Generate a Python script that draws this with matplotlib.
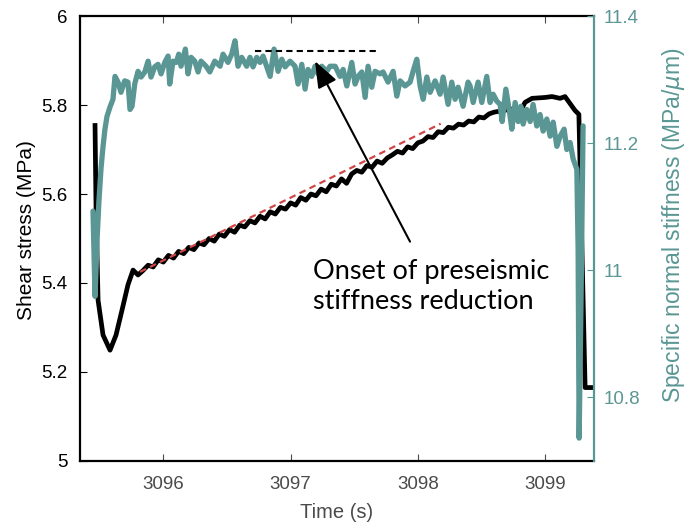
import matplotlib.pyplot as plt

# shear stress record (s, MPa)
shear_time = [
    3095.463, 3095.471, 3095.487, 3095.526, 3095.581, 3095.628, 3095.675,
    3095.722, 3095.762, 3095.801,
    3095.84, 3095.88, 3095.92, 3095.96, 3096.00, 3096.04, 3096.08, 3096.12,
    3096.16, 3096.20, 3096.24, 3096.28, 3096.32, 3096.36, 3096.40, 3096.44,
    3096.48, 3096.52, 3096.56, 3096.60, 3096.64, 3096.68, 3096.72, 3096.76,
    3096.80, 3096.84, 3096.88, 3096.92, 3096.96, 3097.00, 3097.04, 3097.08,
    3097.12, 3097.16, 3097.20, 3097.24, 3097.28, 3097.32, 3097.36, 3097.40,
    3097.44, 3097.48, 3097.52, 3097.56, 3097.60, 3097.64, 3097.68, 3097.72,
    3097.76, 3097.80, 3097.84, 3097.88, 3097.92, 3097.96, 3098.00, 3098.04,
    3098.08, 3098.12, 3098.16, 3098.20, 3098.24, 3098.28, 3098.32, 3098.36,
    3098.40, 3098.44, 3098.48, 3098.52, 3098.56, 3098.60,
    3098.686, 3098.72, 3098.80, 3098.843, 3098.898, 3099.00, 3099.055,
    3099.118, 3099.157, 3099.235, 3099.266, 3099.315, 3099.378,
]
shear_stress = [
    5.754, 5.564, 5.361, 5.283, 5.249, 5.283, 5.339,
    5.396, 5.429, 5.418,
    5.428, 5.440, 5.436, 5.452, 5.447, 5.462, 5.456, 5.471,
    5.466, 5.480, 5.475, 5.490, 5.486, 5.500, 5.494, 5.510,
    5.505, 5.520, 5.514, 5.530, 5.526, 5.540, 5.535, 5.550,
    5.544, 5.560, 5.555, 5.570, 5.566, 5.580, 5.575, 5.592,
    5.586, 5.600, 5.596, 5.611, 5.605, 5.622, 5.618, 5.634,
    5.624, 5.645, 5.653, 5.649, 5.664, 5.660, 5.674, 5.669,
    5.681, 5.688, 5.696, 5.692, 5.706, 5.702, 5.715, 5.719,
    5.729, 5.727, 5.740, 5.738, 5.750, 5.748, 5.757, 5.755,
    5.764, 5.762, 5.773, 5.771, 5.780, 5.784,
    5.788, 5.792, 5.783, 5.806, 5.815, 5.817, 5.819,
    5.815, 5.819, 5.788, 5.779, 5.165, 5.165,
]

# specific normal stiffness record (s, MPa/um)
stiff_time = [
    3095.447, 3095.463, 3095.479, 3095.494, 3095.510, 3095.526, 3095.541,
    3095.557, 3095.581, 3095.604, 3095.620, 3095.644, 3095.667, 3095.696,
    3095.722, 3095.738, 3095.754, 3095.775, 3095.801, 3095.825, 3095.854,
    3095.880, 3095.903, 3095.932, 3095.958, 3095.982, 3096.011, 3096.037,
    3096.050, 3096.076, 3096.102, 3096.121, 3096.139, 3096.173, 3096.194,
    3096.218, 3096.247, 3096.273, 3096.296, 3096.336, 3096.365, 3096.404,
    3096.446, 3096.469, 3096.508, 3096.537, 3096.563, 3096.587, 3096.616,
    3096.655, 3096.681, 3096.705, 3096.734, 3096.760, 3096.784, 3096.813,
    3096.839, 3096.870, 3096.902, 3096.931, 3096.957, 3096.996, 3097.035,
    3097.059, 3097.088, 3097.114, 3097.137, 3097.166, 3097.192, 3097.216,
    3097.245, 3097.284, 3097.310, 3097.350, 3097.389, 3097.413, 3097.442,
    3097.481, 3097.507, 3097.531, 3097.560, 3097.586, 3097.609, 3097.638,
    3097.664, 3097.703, 3097.727, 3097.766, 3097.806, 3097.835, 3097.861,
    3097.900, 3097.939, 3097.963, 3097.992, 3098.018, 3098.042, 3098.071,
    3098.097, 3098.136, 3098.175, 3098.199, 3098.238, 3098.267, 3098.293,
    3098.317, 3098.356, 3098.395, 3098.411, 3098.435, 3098.474, 3098.503,
    3098.542, 3098.568, 3098.592, 3098.621, 3098.647, 3098.663, 3098.692,
    3098.718, 3098.739, 3098.765, 3098.789, 3098.810, 3098.828, 3098.857,
    3098.883, 3098.906, 3098.935, 3098.961, 3098.985, 3099.014, 3099.040,
    3099.064, 3099.093, 3099.119, 3099.150, 3099.171, 3099.197, 3099.221,
    3099.250, 3099.260, 3099.268, 3099.283, 3099.299,
]
stiffness = [
    11.093, 10.959, 11.048, 11.110, 11.160, 11.195, 11.222,
    11.242, 11.257, 11.269, 11.305, 11.296, 11.280, 11.298,
    11.296, 11.253, 11.258, 11.293, 11.313, 11.304, 11.312,
    11.329, 11.304, 11.320, 11.324, 11.309, 11.327, 11.337,
    11.293, 11.329, 11.327, 11.340, 11.321, 11.348, 11.309,
    11.335, 11.329, 11.312, 11.329, 11.321, 11.312, 11.329,
    11.321, 11.340, 11.327, 11.340, 11.361, 11.321, 11.335,
    11.321, 11.335, 11.320, 11.335, 11.327, 11.337, 11.320,
    11.305, 11.348, 11.313, 11.332, 11.320, 11.329, 11.321,
    11.293, 11.324, 11.285, 11.316, 11.305, 11.321, 11.309,
    11.321, 11.313, 11.321, 11.321, 11.305, 11.316, 11.290,
    11.327, 11.293, 11.305, 11.312, 11.272, 11.321, 11.288,
    11.313, 11.309, 11.312, 11.296, 11.313, 11.274, 11.298,
    11.290, 11.296, 11.313, 11.332, 11.290, 11.269, 11.304,
    11.280, 11.298, 11.277, 11.304, 11.261, 11.296, 11.269,
    11.288, 11.258, 11.296, 11.290, 11.264, 11.296, 11.264,
    11.305, 11.264, 11.277, 11.266, 11.261, 11.234, 11.285,
    11.253, 11.222, 11.264, 11.234, 11.258, 11.230, 11.253,
    11.234, 11.261, 11.227, 11.245, 11.219, 11.238, 11.211,
    11.233, 11.195, 11.211, 11.222, 11.190, 11.201, 11.175,
    11.159, 11.033, 10.736, 10.954, 11.227,
]

# linear fit to the loading stage
fit_time = [3095.817, 3098.18]
fit_stress = [5.425, 5.758]

# peak stiffness level
peak_time = [3096.72, 3097.69]
peak_stiffness = [11.345, 11.345]

teal = "#5a9794"
grey = "#4a4a4a"

fig, ax = plt.subplots(figsize=(6.88, 5.22), dpi=100)
fig.subplots_adjust(left=0.1163, right=0.8634, bottom=0.1169, top=0.9693)

ax.plot(shear_time, shear_stress, color="black", lw=3.4, solid_joinstyle="round")
ax.plot(fit_time, fit_stress, color="#d04545", lw=1.6, ls=(0, (3, 2)))
ax.set_xlim(3095.345, 3099.385)
ax.set_ylim(5, 6)
ax.set_xticks([3096, 3097, 3098, 3099])
ax.set_yticks([5, 5.2, 5.4, 5.6, 5.8, 6])
ax.set_yticklabels(["5", "5.2", "5.4", "5.6", "5.8", "6"])
ax.tick_params(axis="x", direction="in", length=5, colors=grey, labelsize=13.5,
               top=True, pad=11)
ax.tick_params(axis="y", direction="in", length=5, colors="black", labelsize=13.5,
               pad=9)
ax.set_xlabel("Time (s)", fontsize=14.5, color=grey, labelpad=7)
ax.set_ylabel("Shear stress (MPa)", fontsize=15, color="black")
ax.yaxis.set_label_coords(-0.085, 0.52)
for side in ["top", "bottom", "left"]:
    ax.spines[side].set_linewidth(1.6)
    ax.spines[side].set_color("black")
ax.spines["right"].set_visible(False)

ax2 = ax.twinx()
ax2.plot(stiff_time, stiffness, color=teal, lw=3.8, solid_joinstyle="round",
         solid_capstyle="round")
ax2.plot(peak_time, peak_stiffness, color="black", lw=1.5, ls=(0, (3, 2)))
ax2.set_ylim(10.7, 11.4)
ax2.set_yticks([10.8, 11, 11.2, 11.4])
ax2.set_yticklabels(["10.8", "11", "11.2", "11.4"])
ax2.tick_params(axis="y", direction="in", length=5, colors=teal, labelsize=13.5,
                pad=7)
ax2.set_ylabel(r"Specific normal stiffness (MPa/$\mu$m)", fontsize=16.5,
               color=teal)
ax2.yaxis.set_label_coords(1.128, 0.53)
for side in ["top", "bottom", "left"]:
    ax2.spines[side].set_visible(False)
ax2.spines["right"].set_color(teal)
ax2.spines["right"].set_linewidth(1.6)

ax2.annotate("", xy=(3097.192, 11.329), xytext=(3097.939, 11.045),
             arrowprops=dict(arrowstyle="-|>,head_length=0.65,head_width=0.25",
                             color="black", lw=1.5, mutation_scale=25,
                             shrinkA=0, shrinkB=0))
ax2.text(3097.177, 10.975, "Onset of preseismic\nstiffness reduction",
         fontsize=19.5, family="Lato", ha="left", va="center", linespacing=1.25)

for lab in ax.get_xticklabels() + ax.get_yticklabels() + ax2.get_yticklabels():
    lab.set_family("Liberation Sans")
ax.xaxis.label.set_family("Liberation Sans")
ax.yaxis.label.set_family("Liberation Sans")
ax2.yaxis.label.set_family("Liberation Sans")

fig.savefig("out.png", dpi=100)
